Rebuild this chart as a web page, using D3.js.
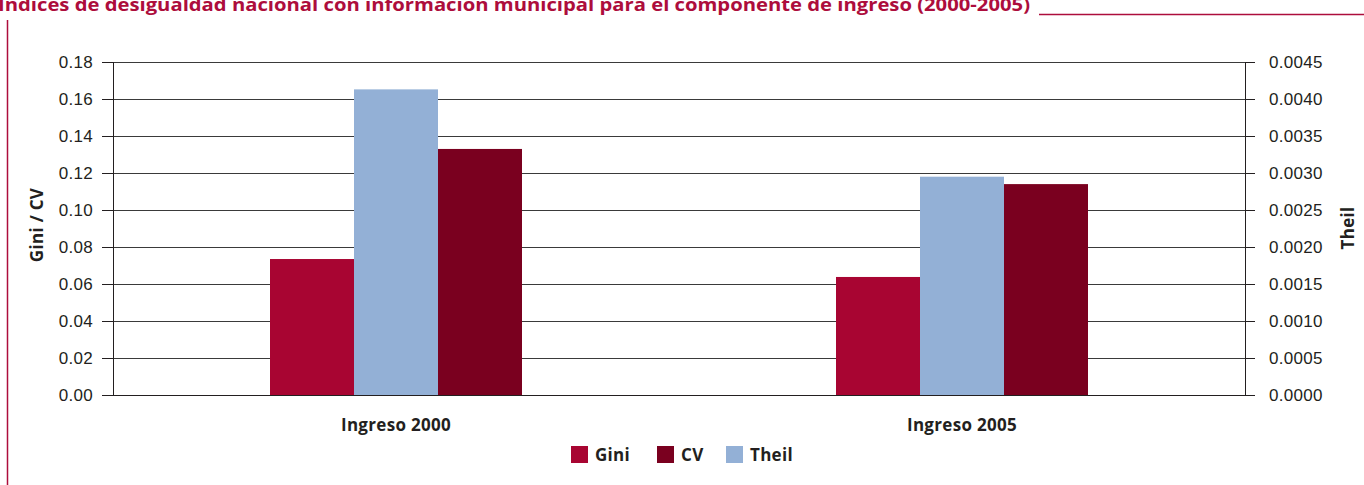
<!DOCTYPE html>
<meta charset="utf-8">
<style>
body { margin: 0; background: #fff; }
svg { display: block; font-family: "Open Sans", "Noto Sans", sans-serif; }
.axis text { font-size: 17px; fill: #231f20; letter-spacing: 0.3px; }
.axis path, .axis line { stroke: #231f20; shape-rendering: crispEdges; }
.grid line { stroke: #3a3a3a; shape-rendering: crispEdges; }
.lbl { font-size: 17px; font-weight: bold; fill: #231f20; letter-spacing: 0.3px; }
</style>
<svg width="1364" height="485"></svg>
<script src="https://cdn.jsdelivr.net/npm/d3@7"></script>
<script>

var categories = ["Ingreso 2000", "Ingreso 2005"];
var gini = [0.0735, 0.0638];
var cv = [0.133, 0.114];
var theil = [0.00413, 0.00295];
var leftTicks = [0, 0.02, 0.04, 0.06, 0.08, 0.10, 0.12, 0.14, 0.16, 0.18];
var rightTicks = [0, 0.0005, 0.0010, 0.0015, 0.0020, 0.0025, 0.0030, 0.0035, 0.0040, 0.0045];

var svg = d3.select("svg"),
    margin = {top: 62, right: 119, bottom: 90, left: 113},
    width = 1364 - margin.left - margin.right,
    height = 485 - margin.top - margin.bottom;

// title (cut at top as in the source)
svg.append("text")
    .attr("x", -2)
    .attr("y", 11)
    .attr("fill", "#ad0d3c")
    .style("font-size", "18px")
    .style("font-weight", "bold")
    .attr("textLength", 1032)
    .attr("lengthAdjust", "spacingAndGlyphs")
    .text("Índices de desigualdad nacional con información municipal para el componente de ingreso (2000-2005)");

svg.append("line")
    .attr("x1", 1039).attr("x2", 1364)
    .attr("y1", 14.5).attr("y2", 14.5)
    .attr("stroke", "#ad0d3c").attr("stroke-width", 1.3);

svg.append("line")
    .attr("x1", 7.5).attr("x2", 7.5)
    .attr("y1", 20).attr("y2", 485)
    .attr("stroke", "#ad0d3c").attr("stroke-width", 1.5);

var g = svg.append("g")
    .attr("transform", "translate(" + margin.left + "," + margin.top + ")");

var x0 = d3.scaleBand().domain(categories).range([0, width]);
var series = ["Gini", "Theil", "CV"];
var x1 = d3.scaleBand().domain(series).range([0, 252]);
var yL = d3.scaleLinear().domain([0, 0.18]).range([height, 0]);
var yR = d3.scaleLinear().domain([0, 0.0045]).range([height, 0]);

// gridlines
g.append("g").attr("class", "grid")
  .selectAll("line")
  .data(leftTicks.slice(1))
  .enter().append("line")
    .attr("x1", 0).attr("x2", width)
    .attr("y1", function(d) { return Math.round(yL(d)) + 0.5; })
    .attr("y2", function(d) { return Math.round(yL(d)) + 0.5; });

var rows = [];
categories.forEach(function(c, i) {
  rows.push({cat: c, s: "Gini", v: gini[i], y: yL, color: "#a80532"});
  rows.push({cat: c, s: "Theil", v: theil[i], y: yR, color: "#93b0d6"});
  rows.push({cat: c, s: "CV", v: cv[i], y: yL, color: "#7a001f"});
});

g.selectAll(".bar")
  .data(rows)
  .enter().append("rect")
    .attr("class", "bar")
    .attr("x", function(d) { return x0(d.cat) + (x0.bandwidth() - 252) / 2 + x1(d.s); })
    .attr("width", x1.bandwidth())
    .attr("y", function(d) { return d.y(d.v); })
    .attr("height", function(d) { return height - d.y(d.v); })
    .attr("fill", function(d) { return d.color; });

// axes
g.append("g").attr("class", "axis")
    .call(d3.axisLeft(yL).tickValues(leftTicks).tickSize(11).tickPadding(9)
      .tickFormat(d3.format(".2f")));

g.append("g").attr("class", "axis")
    .attr("transform", "translate(" + width + ",0)")
    .call(d3.axisRight(yR).tickValues(rightTicks).tickSize(10).tickPadding(14)
      .tickFormat(d3.format(".4f")));

g.append("line")
    .attr("x1", 0).attr("x2", width)
    .attr("y1", height + 0.5).attr("y2", height + 0.5)
    .attr("stroke", "#231f20");

g.selectAll(".cat")
  .data(categories)
  .enter().append("text")
    .attr("class", "lbl")
    .attr("text-anchor", "middle")
    .attr("x", function(d) { return x0(d) + x0.bandwidth() / 2; })
    .attr("y", height + 36)
    .text(function(d) { return d; });

svg.append("text")
    .attr("class", "lbl")
    .attr("transform", "translate(43,225) rotate(-90)")
    .attr("text-anchor", "middle")
    .text("Gini / CV");

svg.append("text")
    .attr("class", "lbl")
    .attr("transform", "translate(1354,228) rotate(-90)")
    .attr("text-anchor", "middle")
    .text("Theil");

// legend
var legend = [
  {name: "Gini", color: "#a80532", x: 571},
  {name: "CV", color: "#7a001f", x: 657},
  {name: "Theil", color: "#93b0d6", x: 726}
];
var lg = svg.selectAll(".leg").data(legend).enter().append("g")
    .attr("transform", function(d) { return "translate(" + d.x + ",446)"; });
lg.append("rect").attr("width", 17).attr("height", 17)
    .attr("fill", function(d) { return d.color; });
lg.append("text").attr("class", "lbl").attr("x", 24).attr("y", 15)
    .text(function(d) { return d.name; });

</script>
